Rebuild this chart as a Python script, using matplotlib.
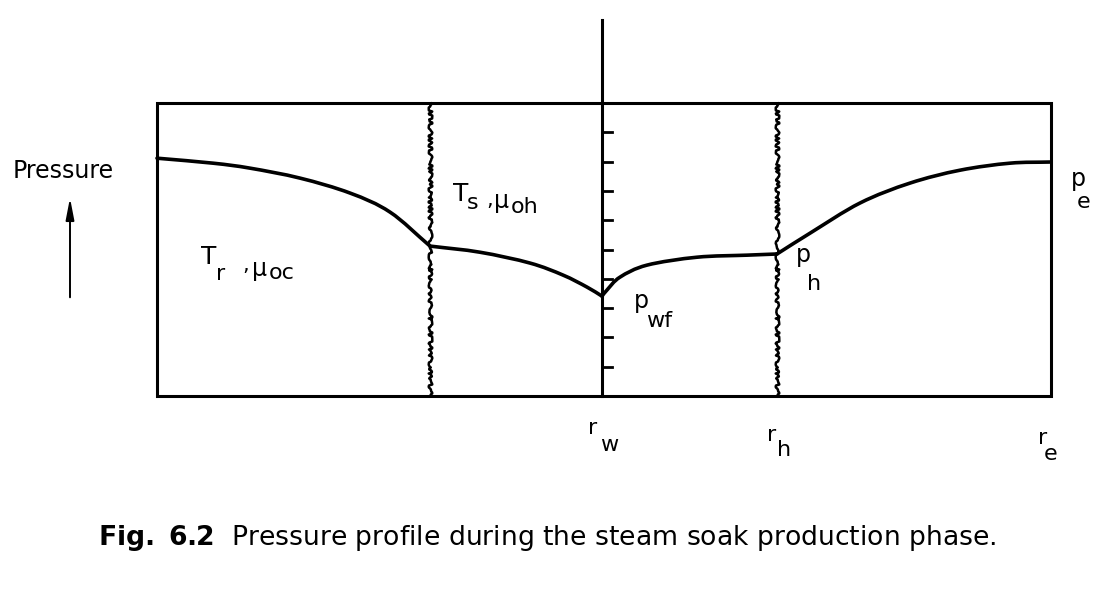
import matplotlib
matplotlib.use("Agg")
import matplotlib.pyplot as plt
from matplotlib.patches import Rectangle, PathPatch
from matplotlib.path import Path

plt.rcParams['font.family'] = ['DejaVu Sans']
plt.rcParams['mathtext.fontset'] = 'dejavusans'

# ---- data (radial coordinate, pressure) ----
r_edge_left = -4.45
r_well = 0.0
r_hot_left = -1.72
r_hot_right = 1.75
r_outer = 4.49
p_top = 10.0

# outer cold zone (left side, mirror image)
r_outer_left = [-4.45, -3.89, -3.52, -3.02, -2.52, -2.12, -1.72]
p_outer_left = [8.12, 7.95, 7.78, 7.44, 6.93, 6.28, 5.12]
# heated zone (left)
r_hot_l = [-1.72, -1.22, -0.72, -0.39, -0.15, 0.0]
p_hot_l = [5.12, 4.91, 4.54, 4.13, 3.72, 3.41]
# heated zone (right)
r_hot_r = [0.0, 0.05, 0.18, 0.45, 0.95, 1.45, 1.75]
p_hot_r = [3.41, 3.62, 4.06, 4.47, 4.74, 4.81, 4.85]
# outer cold zone (right)
r_outer_right = [1.75, 2.08, 2.58, 3.08, 3.58, 4.08, 4.49]
p_outer_right = [4.85, 5.56, 6.59, 7.27, 7.71, 7.95, 7.99]

well_ticks = [1, 2, 3, 4, 5, 6, 7, 8, 9]
well_line_top = 12.83

# ---- figure ----
fig = plt.figure(figsize=(11.14, 6.07), dpi=100)
ax = fig.add_axes([0, 0, 1, 1])
ax.set_xlim(-6.02, 5.12)
ax.set_ylim(-7.20, 13.52)
ax.axis('off')

K = 'black'
# box
ax.add_patch(Rectangle((r_edge_left, 0), r_outer - r_edge_left, p_top,
                       fill=False, ec=K, lw=2.2))
# well line
ax.plot([r_well, r_well], [0, well_line_top], color=K, lw=2.2, clip_on=False)
for t in well_ticks:
    ax.plot([r_well, r_well + 0.10], [t, t], color=K, lw=2.0)

# wavy front lines
for xf in (r_hot_left, r_hot_right):
    ln, = ax.plot([xf, xf], [0, p_top], color=K, lw=1.8)
    ln.set_sketch_params(scale=1.8, length=14, randomness=8)


def smooth_path(xs, ys):
    """Catmull-Rom curve through the given points, as a Bezier path."""
    pts = list(zip(xs, ys))
    n = len(pts)
    first = (2 * pts[0][0] - pts[1][0], 2 * pts[0][1] - pts[1][1])
    last = (2 * pts[-1][0] - pts[-2][0], 2 * pts[-1][1] - pts[-2][1])
    ext = [first] + pts + [last]
    verts = [pts[0]]
    codes = [Path.MOVETO]
    for i in range(1, n):
        p0, p1, p2, p3 = ext[i - 1], ext[i], ext[i + 1], ext[i + 2]
        c1 = (p1[0] + (p2[0] - p0[0]) / 6.0, p1[1] + (p2[1] - p0[1]) / 6.0)
        c2 = (p2[0] - (p3[0] - p1[0]) / 6.0, p2[1] - (p3[1] - p1[1]) / 6.0)
        verts += [c1, c2, p2]
        codes += [Path.CURVE4, Path.CURVE4, Path.CURVE4]
    return Path(verts, codes)


# pressure profile
for rr, pp in ((r_outer_left, p_outer_left), (r_hot_l, p_hot_l),
               (r_hot_r, p_hot_r), (r_outer_right, p_outer_right)):
    ax.add_patch(PathPatch(smooth_path(rr, pp), fill=False, ec=K, lw=2.6,
                           capstyle='round', joinstyle='round'))


# helpers: pixel-based placement for labels
def X(px):
    return (px - 602) / 100.0


def Y(py):
    return (396 - py) / 29.3


def put(s, px, py, size=16, **kw):
    ax.text(X(px), Y(py), s, fontsize=size, ha='left', va='baseline',
            color=K, **kw)


# Pressure label and arrow
put('Pressure', 13, 178, size=17)
ax.annotate('', xy=(X(70), Y(195)), xytext=(X(70), Y(300)),
            arrowprops=dict(arrowstyle='-|>,head_length=1.3,head_width=0.25',
                            color=K, lw=1.4))

# T_r , mu_oc
put('T', 201, 264, size=18)
put('r', 216, 280, size=16)
put(',', 242, 271, size=15)
put('μ', 252, 276, size=17)
put('oc', 269, 279, size=16)

# T_s , mu_oh
put('T', 453, 201, size=18)
put('s', 467, 209, size=16)
put(',', 486, 206, size=15)
put('μ', 494, 208, size=17)
put('oh', 511, 213, size=16)

# pressures
put('p', 634, 308, size=17)
put('wf', 646, 327, size=16)
put('p', 796, 262, size=17)
put('h', 807, 290, size=16)
put('p', 1071, 186, size=17)
put('e', 1077, 208, size=16)

# radii
put('r', 588, 434, size=16)
put('w', 600, 451, size=16)
put('r', 767, 441, size=16)
put('h', 777, 456, size=16)
put('r', 1038, 444, size=16)
put('e', 1044, 460, size=16)

# caption
put(r'$\mathbf{Fig.\ 6.2}$  Pressure profile during the steam soak production phase.',
    98, 545, size=19.2)

fig.savefig('out.png', dpi=100)
